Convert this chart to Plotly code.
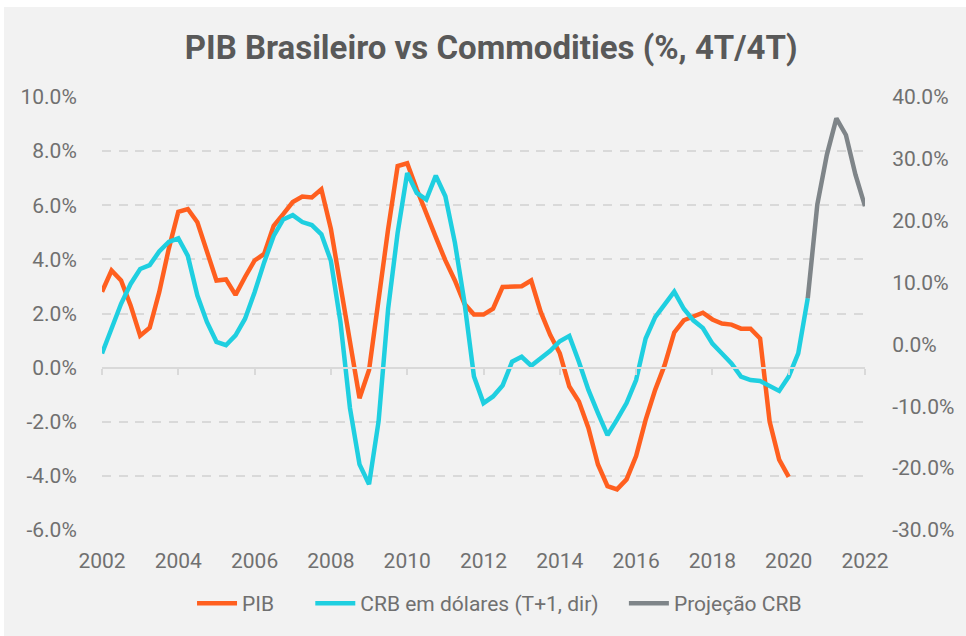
import plotly.graph_objects as go

# quarterly dates, 2002Q1 .. 2022Q1 (decimal years)
quarters = [2002 + i * 0.25 for i in range(81)]

pib = [
    2.8, 3.59, 3.22, 2.30, 1.18, 1.47, 2.79, 4.39, 5.76, 5.86,
    5.37, 4.26, 3.22, 3.26, 2.69, 3.35, 3.96, 4.20, 5.24, 5.67,
    6.12, 6.32, 6.29, 6.59, 5.12, 3.04, 0.96, -1.13, -0.09, 2.61,
    5.12, 7.45, 7.55, 6.59, 5.67, 4.82, 3.96, 3.22, 2.36, 1.96,
    1.96, 2.18, 2.98, 3.01, 3.01, 3.22, 2.06, 1.20, 0.53, -0.70,
    -1.25, -2.23, -3.58, -4.38, -4.50, -4.13, -3.27, -1.93, -0.82, 0.10,
    1.30, 1.75, 1.90, 2.03, 1.78, 1.63, 1.59, 1.44, 1.44, 1.08,
    -1.99, -3.40, -4.04,
]

crb = [
    -1.46, 2.82, 6.57, 9.78, 12.19, 12.83, 15.02, 16.57, 17.16, 14.32,
    7.90, 3.63, 0.42, -0.13, 1.48, 4.16, 8.44, 13.26, 17.53, 20.21,
    20.9, 19.78, 19.30, 17.80, 13.52, 3.63, -10.29, -19.39, -22.60, -12.43,
    5.76, 18.08, 27.71, 24.50, 23.42, 27.28, 23.95, 16.47, 6.84, -5.20,
    -9.49, -8.41, -6.65, -2.79, -1.99, -3.44, -2.26, -1.03, 0.51, 1.38,
    -2.79, -7.35, -11.09, -14.67, -12.17, -9.49, -5.75, 0.95, 4.43, 6.57,
    8.55, 5.76, 3.89, 2.66, 0.14, -1.46, -3.07, -5.20, -5.75, -5.91,
    -6.65, -7.51, -5.20, -1.46, 7.48,
]

proj = [None] * 74 + [7.48, 22.62, 30.65, 36.54, 33.86, 27.44, 22.35]

year_ticks = list(range(2002, 2023, 2))
left_ticks = [-6, -4, -2, 0, 2, 4, 6, 8, 10]
left_labels = ["-6.0%", "-4.0%", "-2.0%", "0.0%", "2.0%", "4.0%", "6.0%", "8.0%", "10.0%"]
right_ticks = [-30, -20, -10, 0, 10, 20, 30, 40]
right_labels = ["-30.0%", "-20.0%", "-10.0%", "0.0%", "10.0%", "20.0%", "30.0%", "40.0%"]

ORANGE = "#ff5f1f"
CYAN = "#1fcfe0"
GREY = "#7f8589"
TXT = "#707070"
GRID = "#d9d9d9"
FONT = "Roboto"

fig = go.Figure()
fig.add_trace(go.Scatter(x=quarters[:len(pib)], y=pib, name="PIB", mode="lines",
                         line=dict(color=ORANGE, width=4.5), legend="legend"))
fig.add_trace(go.Scatter(x=quarters[:len(crb)], y=crb, name="CRB em dólares (T+1, dir)", mode="lines",
                         line=dict(color=CYAN, width=4.5), yaxis="y2", legend="legend2"))
fig.add_trace(go.Scatter(x=quarters, y=proj, name="Projeção CRB", mode="lines",
                         line=dict(color=GREY, width=4.5), yaxis="y2", legend="legend3"))
# empty trace so the zero-line axis (x2) gets drawn
fig.add_trace(go.Scatter(x=[2002], y=[None], xaxis="x2", showlegend=False, hoverinfo="skip"))

leg = dict(orientation="h", xanchor="left", y=-0.17, yanchor="middle",
           font=dict(size=21, color=TXT), bgcolor="rgba(0,0,0,0)", itemwidth=40)

fig.update_layout(
    width=962, height=629,
    margin=dict(l=98, r=96, t=90, b=103),
    paper_bgcolor="#f2f2f2", plot_bgcolor="#f2f2f2",
    font=dict(family=FONT, color=TXT, size=21),
    title=dict(text="<b>PIB Brasileiro vs Commodities (%, 4T/4T)</b>", x=0.51, xref="paper",
               y=1 - 40 / 629, yanchor="middle",
               font=dict(family=FONT, size=33, color="#595959")),
    showlegend=True,
    legend=dict(leg, x=0.118),
    legend2=dict(leg, x=0.273),
    legend3=dict(leg, x=0.684),
    xaxis=dict(range=[2002, 2022], tickvals=year_ticks, showgrid=False, zeroline=False,
               ticks="outside", ticklen=12, tickcolor="rgba(0,0,0,0)", showline=False),
    xaxis2=dict(range=[2002, 2022], overlaying="x", anchor="free", position=0.375,
                tickvals=year_ticks, showticklabels=False, showgrid=False, zeroline=False,
                showline=True, linecolor=GRID, linewidth=2, ticks="outside", ticklen=6,
                tickcolor=GRID, tickwidth=1.5),
    yaxis=dict(range=[-6, 10], tickvals=left_ticks, ticktext=left_labels, showgrid=True,
               gridcolor=GRID, gridwidth=1.5, griddash="9px,7.7px", zeroline=False,
               ticks="outside", ticklen=20, tickcolor="rgba(0,0,0,0)"),
    yaxis2=dict(range=[-30, 40], tickvals=right_ticks, ticktext=right_labels, overlaying="y",
                side="right", showgrid=False, zeroline=False,
                ticks="outside", ticklen=22, tickcolor="rgba(0,0,0,0)"),
)

# white strip at top/left like the original screenshot
fig.write_html(
    "out.html",
    post_script="document.body.style.margin='7px 0 0 4px';document.body.style.overflow='hidden';",
)
